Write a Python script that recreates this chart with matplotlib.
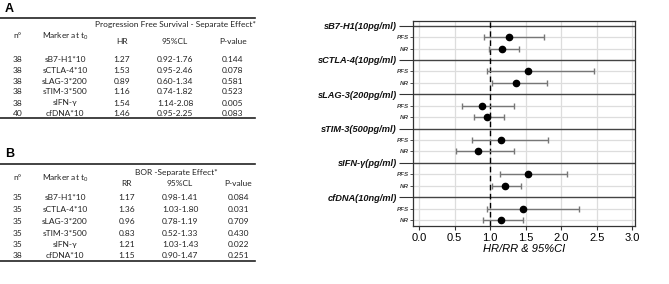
import matplotlib
matplotlib.use("Agg")
import matplotlib.pyplot as plt

# ---- data ----
markers_tab = ["sB7-H1*10", "sCTLA-4*10", "sLAG-3*200", "sTIM-3*500", "sIFN-γ", "cfDNA*10"]

n_pfs = [38, 38, 38, 38, 38, 40]
hr = [1.27, 1.53, 0.89, 1.16, 1.54, 1.46]
hr_lo = [0.92, 0.95, 0.60, 0.74, 1.14, 0.95]
hr_hi = [1.76, 2.46, 1.34, 1.82, 2.08, 2.25]
p_pfs = ["0.144", "0.078", "0.581", "0.523", "0.005", "0.083"]

n_bor = [35, 35, 35, 35, 35, 38]
rr = [1.17, 1.36, 0.96, 0.83, 1.21, 1.15]
rr_lo = [0.98, 1.03, 0.78, 0.52, 1.03, 0.90]
rr_hi = [1.41, 1.80, 1.19, 1.33, 1.43, 1.47]
p_bor = ["0.084", "0.031", "0.709", "0.430", "0.022", "0.251"]

groups = ["sB7-H1(10pg/ml)", "sCTLA-4(10pg/ml)", "sLAG-3(200pg/ml)",
          "sTIM-3(500pg/ml)", "sIFN-γ(pg/ml)", "cfDNA(10ng/ml)"]

W, H = 669, 284
fig = plt.figure(figsize=(W / 100, H / 100), dpi=100)

# ---- tables (pixel coordinates) ----
ax0 = fig.add_axes([0, 0, 1, 1])
ax0.set_xlim(0, W)
ax0.set_ylim(H, 0)
ax0.axis("off")

tf = dict(family=["Lato", "DejaVu Sans"], fontsize=6, color="#222222",
          ha="center", va="center")
mk_lbl = r"Marker at t$_\mathregular{0}$"


def draw_table(letter, y0, title, effname, cols, ns, est, lo, hi, ps, rows_y,
               y_head, y_bottom):
    ax0.text(5, y0, letter, fontsize=9, fontweight="bold", va="center",
             ha="left", family="Liberation Sans")
    ax0.plot([0, 255], [y_head[0], y_head[0]], color="#222222", lw=1.2)
    ax0.plot([0, 255], [y_bottom, y_bottom], color="#222222", lw=1.2)
    ax0.text(title[1], y_head[1], title[0], **tf)
    ax0.text(cols[0], y_head[2], "n°", **tf)
    ax0.text(cols[1], y_head[2] + 1, mk_lbl, **tf)
    ax0.text(cols[2], y_head[3], effname, **tf)
    ax0.text(cols[3], y_head[3], "95%CL", **tf)
    ax0.text(cols[4], y_head[3], "P-value", **tf)
    for i in range(len(ns)):
        y = rows_y[i]
        ax0.text(cols[0], y, str(ns[i]), **tf)
        ax0.text(cols[1], y, markers_tab[i], **tf)
        ax0.text(cols[2], y, f"{est[i]:.2f}", **tf)
        ax0.text(cols[3], y, f"{lo[i]:.2f}-{hi[i]:.2f}", **tf)
        ax0.text(cols[4], y, ps[i], **tf)


draw_table("A", 9, ("Progression Free Survival - Separate Effect*", 175), "HR",
           [18, 65, 122, 175, 233], n_pfs, hr, hr_lo, hr_hi, p_pfs,
           [59, 70.5, 81, 92, 103, 113.5], [18, 24.5, 35, 42], 118)
draw_table("B", 154, ("BOR -Separate Effect*", 176), "RR",
           [18, 65, 127, 180, 238], n_bor, rr, rr_lo, rr_hi, p_bor,
           [197, 210, 222, 233.5, 244.5, 256], [164, 172, 177, 183], 261)

# ---- forest plot ----
ax = fig.add_axes([413 / W, 1 - 226 / H, 222 / W, 205 / H])
ng = len(groups)
head_rows = [3 * i for i in range(ng)]
pfs_rows = [3 * i + 1 for i in range(ng)]
nr_rows = [3 * i + 2 for i in range(ng)]

for x in [0, 0.5, 1.0, 1.5, 2.0, 2.5, 3.0]:
    ax.axvline(x, color="#dddddd", lw=0.9, zorder=0)
for y in pfs_rows + nr_rows:
    ax.axhline(y, color="#dddddd", lw=0.9, zorder=0)
for y in head_rows:
    ax.axhline(y, color="#444444", lw=1.0, zorder=1)

ax.axvline(1.0, color="black", lw=1.0, ls=(0, (4, 2.5)), zorder=2)

ax.errorbar(hr, pfs_rows,
            xerr=[[h - l for h, l in zip(hr, hr_lo)], [u - h for h, u in zip(hr, hr_hi)]],
            fmt="o", color="black", ms=4.5, ecolor="#777777", elinewidth=1.0,
            capsize=2, capthick=1.0, zorder=3)
ax.errorbar(rr, nr_rows,
            xerr=[[h - l for h, l in zip(rr, rr_lo)], [u - h for h, u in zip(rr, rr_hi)]],
            fmt="o", color="black", ms=4.5, ecolor="#777777", elinewidth=1.0,
            capsize=2, capthick=1.0, zorder=3)

ax.set_xlim(-0.085, 3.04)
ax.set_ylim(17.52, -0.41)
ax.set_xticks([0, 0.5, 1.0, 1.5, 2.0, 2.5, 3.0])
ax.set_xticklabels(["0.0", "0.5", "1.0", "1.5", "2.0", "2.5", "3.0"],
                   family="Liberation Sans", fontsize=8)
ax.tick_params(axis="x", length=3, pad=2, color="#333333")

ax.set_yticks(head_rows)
ax.set_yticklabels(groups, family="Liberation Sans", fontsize=6.7,
                   fontweight="bold", style="italic", color="#111111")
ax.set_yticks(pfs_rows + nr_rows, minor=True)
ax.set_yticklabels(["PFS"] * ng + ["NR"] * ng, minor=True,
                   family="Liberation Sans", fontsize=4.5, style="italic",
                   fontweight="bold", color="#444444")
ax.tick_params(axis="y", which="major", length=10, pad=1.5, color="#333333")
ax.tick_params(axis="y", which="minor", length=2, pad=1, color="#333333")

for s in ax.spines.values():
    s.set_color("#333333")
    s.set_linewidth(0.9)

ax.set_xlabel("HR/RR & 95%CI", family="Liberation Sans", fontsize=8,
              style="italic", labelpad=1)

fig.savefig("out.png", dpi=100)
